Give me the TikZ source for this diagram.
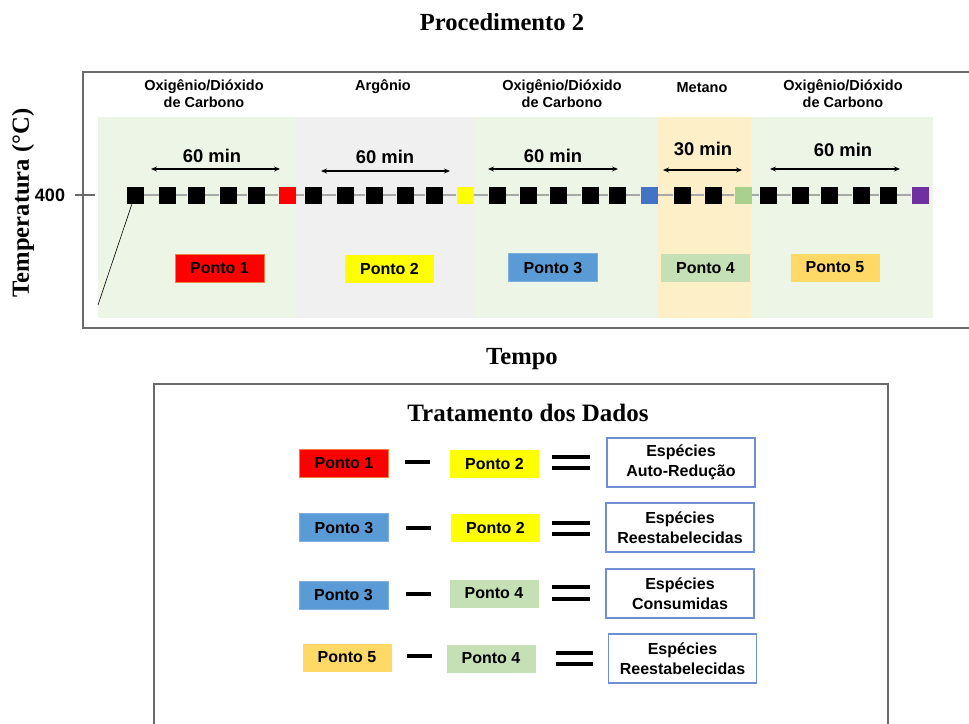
\documentclass[tikz,border=0pt]{standalone}
\usepackage{fontspec}
\setmainfont{Liberation Serif}
\setsansfont{Liberation Sans}
\usetikzlibrary{arrows.meta}

\definecolor{pgreen}{HTML}{EDF5E7}
\definecolor{pgray}{HTML}{F0F0F0}
\definecolor{pgold}{HTML}{FDF0C8}
\definecolor{cred}{HTML}{FF0000}
\definecolor{credline}{HTML}{F08040}
\definecolor{cyellow}{HTML}{FFFF00}
\definecolor{cblue}{HTML}{5B9BD5}
\definecolor{cblueline}{HTML}{7FAEE0}
\definecolor{cgreen}{HTML}{C5E0B4}
\definecolor{cgold}{HTML}{FFD966}
\definecolor{sqblue}{HTML}{4472C4}
\definecolor{sqgreen}{HTML}{A9D18E}
\definecolor{sqpurple}{HTML}{7030A0}
\definecolor{resline}{HTML}{6F8FD3}
\definecolor{framegray}{HTML}{6A6A6A}
\definecolor{linkgray}{HTML}{A8A8A8}

\newcommand\gaslabel{\sffamily\bfseries\fontsize{14.5}{17}\selectfont}
\newcommand\durlabel{\sffamily\bfseries\fontsize{18.4}{20}\selectfont}
\newcommand\pontolabel{\sffamily\bfseries\fontsize{16}{19}\selectfont}
\newcommand\reslabel{\sffamily\bfseries\fontsize{16}{20}\selectfont}
\newcommand\titlelabel{\rmfamily\bfseries\fontsize{24.6}{28}\selectfont}

\tikzset{
  frame/.style={draw=framegray, line width=1.4pt},
  sq/.style={minimum width=17pt, minimum height=17pt, inner sep=0pt, draw=none},
  link/.style={draw=linkgray, line width=1.4pt},
  ponto/.style={minimum width=89pt, minimum height=28pt, inner sep=0pt,
    font=\pontolabel, text=black},
  result/.style={draw=resline, line width=1.3pt, fill=white,
    minimum width=148pt, minimum height=49pt, inner sep=0pt,
    align=center, font=\reslabel},
  gas/.style={align=center, font=\gaslabel},
  dur/.style={font=\durlabel},
  span/.style={{Stealth[length=6pt,width=5pt]}-{Stealth[length=6pt,width=5pt]}, line width=1.1pt},
  bar/.style={fill=black, draw=none},
}

\begin{document}
\begin{tikzpicture}[x=1pt,y=-1pt]
\useasboundingbox (0,0) rectangle (969,723);

% title and axes labels
\node[font=\titlelabel] (title) at (502,22) {Procedimento 2};
\node[font=\titlelabel] (tempo) at (522,359) {Tempo};
\node[font=\titlelabel, rotate=90] (temp) at (23,203) {Temperatura (°C)};
\node[font=\sffamily\bfseries\fontsize{18}{20}\selectfont] (t400) at (50,195) {400};

% gas phase backgrounds
\fill[pgreen] (98,117) rectangle (295,318);
\fill[pgray]  (295,117) rectangle (475,318);
\fill[pgreen] (475,117) rectangle (657,318);
\fill[pgold]  (657,117) rectangle (751,318);
\fill[pgreen] (751,117) rectangle (933,318);

% plot frame (open on the right)
\draw[frame] (970,72) -- (83,72) -- (83,328) -- (970,328);
\draw[framegray, line width=1.1pt] (75,195) -- (95,195);

% gas labels
\node[gas] (g1) at (204,94) {Oxigênio/Dióxido\\de Carbono};
\node[gas] (g2) at (383,87) {Argônio};
\node[gas] (g3) at (562,94) {Oxigênio/Dióxido\\de Carbono};
\node[gas] (g4) at (702,88) {Metano};
\node[gas] (g5) at (843,94) {Oxigênio/Dióxido\\de Carbono};

% sampling points along the isotherm
\foreach \i/\x/\c in {1/135/black,2/167.7/black,3/196/black,4/228/black,5/256/black,
  6/287/cred,7/313/black,8/345/black,9/374/black,10/405/black,11/434/black,
  12/465/cyellow,13/497/black,14/528/black,15/558/black,16/590/black,17/617/black,
  18/649/sqblue,19/682/black,20/713/black,21/743/sqgreen,22/768/black,23/800/black,
  24/829/black,25/861/black,26/888/black,27/920/sqpurple}
  \node[sq, fill=\c] (s\i) at (\x,195) {};
\foreach \i [evaluate=\i as \j using int(\i+1)] in {1,...,26}
  \draw[link] (s\i.east) -- (s\j.west);

% ramp up to the isotherm
\coordinate (ramp) at (98,305);
\draw[black, line width=0.6pt] ([xshift=-3pt]s1.south) -- (ramp);

% duration arrows
\coordinate (a1l) at (151,169); \coordinate (a1r) at (280,169);
\coordinate (a2l) at (321,171); \coordinate (a2r) at (450,171);
\coordinate (a3l) at (488,169); \coordinate (a3r) at (618,169);
\coordinate (a4l) at (663,170); \coordinate (a4r) at (742,170);
\coordinate (a5l) at (770,169); \coordinate (a5r) at (900,169);
\draw[span] (a1l) -- (a1r);
\draw[span] (a2l) -- (a2r);
\draw[span] (a3l) -- (a3r);
\draw[span] (a4l) -- (a4r);
\draw[span] (a5l) -- (a5r);
\node[dur] (d1) at (212,156) {60 min};
\node[dur] (d2) at (385,157) {60 min};
\node[dur] (d3) at (553,156) {60 min};
\node[dur] (d4) at (703,149) {30 min};
\node[dur] (d5) at (843,150) {60 min};

% point labels in the plot
\node[ponto, fill=cred, draw=credline, line width=0.8pt] (p1) at (219.5,268) {Ponto 1};
\node[ponto, fill=cyellow] (p2) at (389.5,269) {Ponto 2};
\node[ponto, fill=cblue, draw=cblueline, line width=0.6pt] (p3) at (553,267.5) {Ponto 3};
\node[ponto, fill=cgreen] (p4) at (705.5,268) {Ponto 4};
\node[ponto, fill=cgold] (p5) at (835,267.5) {Ponto 5};

% data treatment panel
\draw[frame] (154,730) -- (154,384) -- (888,384) -- (888,730);
\node[font=\rmfamily\bfseries\fontsize{25}{28}\selectfont] (trat) at (528,413) {Tratamento dos Dados};

% row 1
\node[ponto, fill=cred, draw=credline, line width=0.8pt] (r1a) at (344,463.5) {Ponto 1};
\fill[bar] (405,460.2) rectangle (430,463.8);
\node[ponto, fill=cyellow] (r1b) at (494.5,463.5) {Ponto 2};
\fill[bar] (552,455) rectangle (590,459);
\fill[bar] (552,466) rectangle (590,470);
\node[result] (r1c) at (681,462.5) {Espécies\\Auto-Redução};

% row 2
\node[ponto, fill=cblue, draw=cblueline, line width=0.6pt] (r2a) at (344,527.5) {Ponto 3};
\fill[bar] (406,526.2) rectangle (431,529.8);
\node[ponto, fill=cyellow] (r2b) at (495.5,527.5) {Ponto 2};
\fill[bar] (552,521) rectangle (590,525);
\fill[bar] (552,532) rectangle (590,536);
\node[result] (r2c) at (680,527.5) {Espécies\\Reestabelecidas};

% row 3
\node[ponto, fill=cblue, draw=cblueline, line width=0.6pt] (r3a) at (343.5,595) {Ponto 3};
\fill[bar] (406,592.2) rectangle (431,595.8);
\node[ponto, fill=cgreen] (r3b) at (494,593.5) {Ponto 4};
\fill[bar] (552,585) rectangle (590,589);
\fill[bar] (552,597) rectangle (590,601);
\node[result] (r3c) at (680,593.5) {Espécies\\Consumidas};

% row 4
\node[ponto, fill=cgold] (r4a) at (347,657.5) {Ponto 5};
\fill[bar] (407,654.2) rectangle (432,657.8);
\node[ponto, fill=cgreen] (r4b) at (491,658.5) {Ponto 4};
\fill[bar] (556,651) rectangle (593,655);
\fill[bar] (556,662) rectangle (593,666);
\node[result] (r4c) at (682.5,658.5) {Espécies\\Reestabelecidas};

\end{tikzpicture}
\end{document}
